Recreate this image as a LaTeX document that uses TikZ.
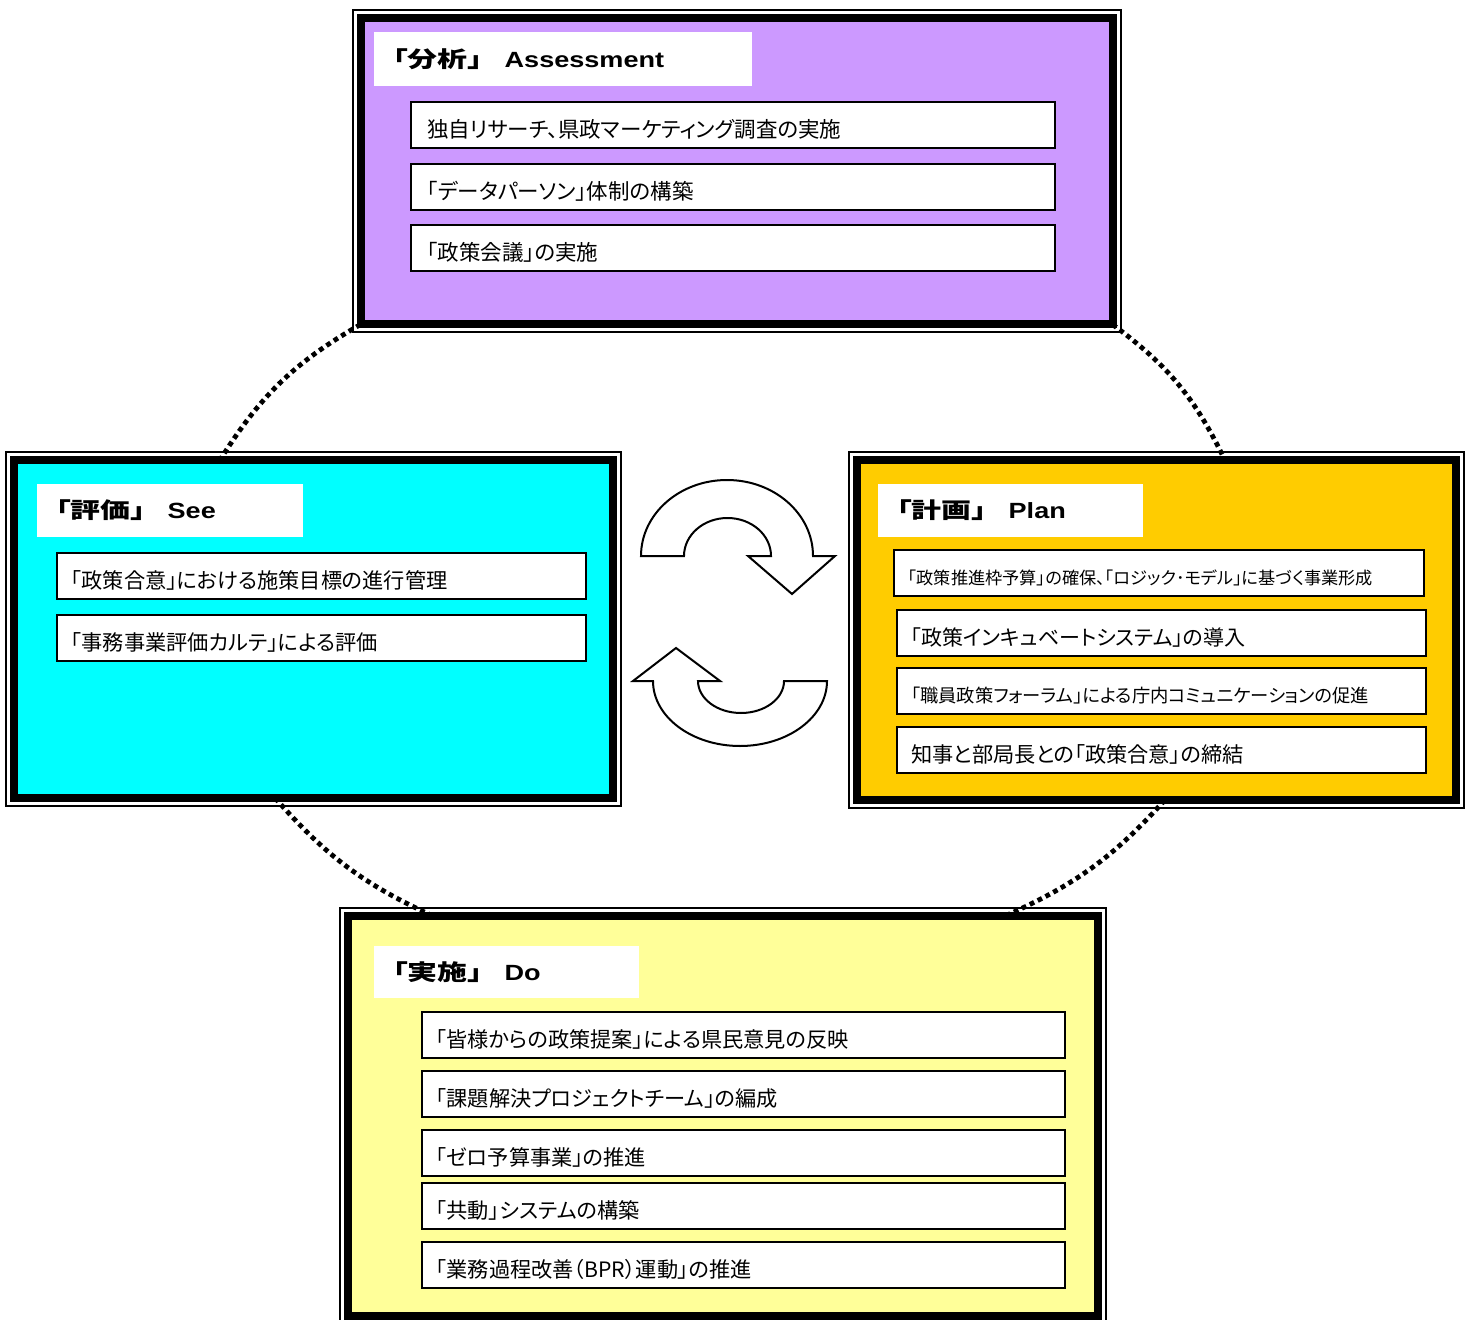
\documentclass[tikz,border=0pt]{standalone}
\usepackage{fontspec}
\newfontfamily\jp[RawFeature=+palt]{Noto Sans CJK JP}
\newfontfamily\jpt{Noto Sans CJK JP}
\newfontfamily\lat{Liberation Sans}
\usetikzlibrary{calc}
\definecolor{cPurple}{HTML}{CC99FF}
\definecolor{cCyan}{HTML}{00FFFF}
\definecolor{cGold}{HTML}{FFCC00}
\definecolor{cLemon}{HTML}{FFFF99}
\newcommand\mytitle[2]{\scalebox{1.36}[1]{\jpt\bfseries\fontsize{11}{13}\selectfont #1}\hspace{3.5pt}\scalebox{1.23}[1]{\lat\bfseries\fontsize{11}{13}\selectfont #2}}
\begin{document}
\begin{tikzpicture}[x=0.5pt,y=-0.5pt,
  bigbox/.style={draw=black, line width=4pt, fill=#1, anchor=north west, inner sep=0pt, outer sep=0pt},
  frameline/.style={draw=black, line width=1pt},
  titlebox/.style={fill=white, anchor=north west, inner xsep=2pt, inner ysep=0pt, outer sep=0pt, align=left, minimum height=#1},
  itembox/.style={draw=black, line width=1pt, fill=white, anchor=north west, inner xsep=7pt, inner ysep=0pt, outer sep=0pt, minimum height=23pt, text height=13.5pt, text depth=1pt, align=left, font=\jp\fontsize{10.6}{12}\selectfont},
  dotline/.style={draw=black, line width=2.4pt, dash pattern=on 2.4pt off 2pt},
  cyclearrow/.style={draw=black, line width=1pt, fill=white, line join=miter}
]
\useasboundingbox (0,0) rectangle (1465,1320);
\fill[white] (0,0) rectangle (1465,1320);

% main boxes
\path (360.5,18.5) node[bigbox=cPurple, minimum width=376pt, minimum height=153pt] (A) {};
\path (14,460) node[bigbox=cCyan, minimum width=299.5pt, minimum height=169pt] (L) {};
\path (857,460) node[bigbox=cGold, minimum width=299.5pt, minimum height=170pt] (R) {};
\path (348,916) node[bigbox=cLemon, minimum width=375pt, minimum height=200pt] (D) {};

% dotted connectors
\draw[dotline] (A.south west) to[bend right=14] ($(L.north west)!0.344!(L.north east)$);
\draw[dotline] (A.south east) to[bend left=14] ($(R.north west)!0.614!(R.north east)$);
\draw[dotline] ($(L.south west)!0.436!(L.south east)$) to[bend right=12] ($(D.north west)!0.113!(D.north east)$);
\draw[dotline] ($(R.south west)!0.514!(R.south east)$) to[bend left=12] ($(D.north west)!0.876!(D.north east)$);

% redraw boxes on top of connector ends
\foreach \n/\c in {A/cPurple,L/cCyan,R/cGold,D/cLemon}{
  \draw[black, line width=4pt, fill=\c] (\n.north west) rectangle (\n.south east);
  \draw[frameline] ([shift={(-8,-8)}]\n.north west) rectangle ([shift={(8,8)}]\n.south east);
}

% titles
\node[titlebox=27pt, text width=185pt] (At) at (374,32) {\mytitle{「分析」}{Assessment}};
\node[titlebox=26.5pt, text width=129pt] (Lt) at (37,484) {\mytitle{「評価」}{See}};
\node[titlebox=26.5pt, text width=128.5pt] (Rt) at (878,484) {\mytitle{「計画」}{Plan}};
\node[titlebox=26pt, text width=128.5pt] (Dt) at (374,946) {\mytitle{「実施」}{Do}};

% Assessment items
\node[itembox, text width=306pt, inner xsep=8pt, font=\jp\fontsize{10.75}{12}\selectfont] (A1) at (411,102) {独自リサーチ、県政マーケティング調査の実施};
\node[itembox, text width=306pt, inner xsep=8pt, font=\jp\fontsize{10.75}{12}\selectfont] (A2) at (411,164) {「データパーソン」体制の構築};
\node[itembox, text width=306pt, inner xsep=8pt, font=\jp\fontsize{10.75}{12}\selectfont] (A3) at (411,225) {「政策会議」の実施};

% See items
\node[itembox, text width=250.5pt] (L1) at (57,553) {「政策合意」における施策目標の進行管理};
\node[itembox, text width=250.5pt] (L2) at (57,615) {「事務事業評価カルテ」による評価};

% Plan items
\node[itembox, text width=251pt, text height=12pt, font=\jp\fontsize{8.6}{10}\selectfont] (R1) at (894,550) {「政策推進枠予算」の確保、「ロジック･モデル」に基づく事業形成};
\node[itembox, text width=250.5pt, font=\jp\fontsize{10.5}{12}\selectfont] (R2) at (897,610) {「政策インキュベートシステム」の導入};
\node[itembox, text width=250.5pt, text height=12.5pt, font=\jp\fontsize{9.15}{11}\selectfont] (R3) at (897,668) {「職員政策フォーラム」による庁内コミュニケーションの促進};
\node[itembox, text width=250.5pt] (R4) at (897,727) {知事と部局長との「政策合意」の締結};

% Do items
\node[itembox, text width=307.5pt] (D1) at (422,1012) {「皆様からの政策提案」による県民意見の反映};
\node[itembox, text width=307.5pt] (D2) at (422,1071) {「課題解決プロジェクトチーム」の編成};
\node[itembox, text width=307.5pt] (D3) at (422,1130) {「ゼロ予算事業」の推進};
\node[itembox, text width=307.5pt] (D4) at (422,1183) {「共動」システムの構築};
\node[itembox, text width=307.5pt] (D5) at (422,1242) {「業務過程改善（BPR）運動」の推進};

% cycle arrows
\draw[cyclearrow] (641,556) arc[start angle=180, end angle=0, x radius=43pt, y radius=38pt]
  -- (835,556) -- (792,594) -- (748,556) -- (771,556)
  arc[start angle=0, end angle=180, x radius=21.75pt, y radius=19pt] -- cycle;
\draw[cyclearrow] (827,681) arc[start angle=0, end angle=-180, x radius=43.5pt, y radius=32.5pt]
  -- (633,681) -- (676,648) -- (720,681) -- (698,681)
  arc[start angle=180, end angle=360, x radius=21.5pt, y radius=16pt] -- cycle;
\end{tikzpicture}
\end{document}
